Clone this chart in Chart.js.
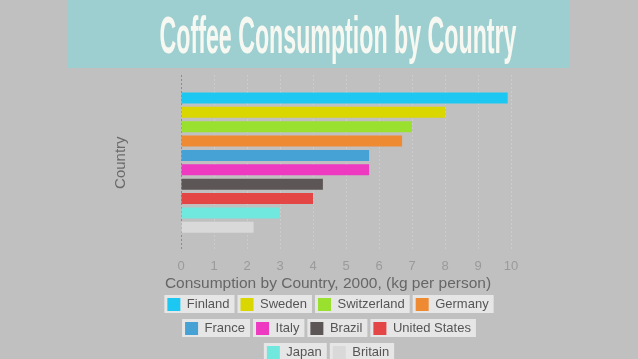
<!DOCTYPE html>
<html><head><meta charset="utf-8">
<script src="https://cdn.jsdelivr.net/npm/chart.js@4.4.0/dist/chart.umd.min.js"></script>
<style>html,body{margin:0;padding:0;background:#c0c0c0;overflow:hidden}#wrap{width:638px;height:359px}</style>
</head><body><div id="wrap"><canvas id="c" width="638" height="359"></canvas></div>
<script>
const TITLE = 'Coffee Consumption by Country';
const X_TITLE = 'Consumption by Country, 2000, (kg per person)';
const Y_TITLE = 'Country';
const countries = ['Finland','Sweden','Switzerland','Germany','France','Italy','Brazil','United States','Japan','Britain'];
const consumption = [9.9, 8.0, 7.0, 6.7, 5.7, 5.7, 4.3, 4.0, 3.0, 2.2];
const colors = ['#1cc8f2','#d9d600','#9ae02e','#ee8a32','#46a2d5','#ee3ac0','#5d5656','#e44646','#70e8dd','#d9d9d9'];
const xTickValues = [0,1,2,3,4,5,6,7,8,9,10];

const FONT = '"Liberation Sans", Arial, sans-serif';
const LEGEND_WRAP = 354;

const decor = {
  id: 'decor',
  beforeUpdate(chart) {
    const lg = chart.legend;
    if (lg && !lg._patched) {
      const origFit = lg.fit;
      lg.fit = function () {
        const m = this.maxWidth;
        this.maxWidth = Math.min(m, LEGEND_WRAP);
        origFit.call(this);
        this.maxWidth = m;
        this.width = m;
      };
      lg.draw = function () {
        if (!this.options.display) return;
        const l = this.left, r = this.right, c = (l + r) / 2;
        const pad = this.options.labels.padding;
        const half = (Math.max.apply(null, this.lineWidths) + pad + 10) / 2;
        this.left = c - half; this.right = c + half;
        this._draw();
        this.left = l; this.right = r;
      };
      lg._patched = true;
    }
  },
  beforeDraw(chart) {
    const ctx = chart.ctx;
    ctx.save();
    ctx.fillStyle = '#c0c0c0';
    ctx.fillRect(0, 0, chart.width, chart.height);
    ctx.fillStyle = '#9dcfd1';
    ctx.fillRect(68, 0, 502, 68);
    ctx.font = 'bold 52px "Liberation Sans Narrow", "Liberation Sans", sans-serif';
    const w = ctx.measureText(TITLE).width;
    ctx.translate(338, 53);
    ctx.scale(357 / w, 1);
    ctx.textAlign = 'center';
    ctx.textBaseline = 'alphabetic';
    ctx.fillStyle = '#f6f8f1';
    ctx.fillText(TITLE, 0, 0);
    ctx.restore();
    const lg = chart.legend;
    if (lg && lg.legendHitBoxes) {
      ctx.save();
      ctx.fillStyle = '#e6e6e6';
      lg.legendHitBoxes.forEach(h => {
        ctx.fillRect(h.left - 3, h.top - 3, h.width + 8, h.height + 5);
      });
      ctx.restore();
    }
  }
};

const datasets = countries.map((c, i) => ({
  label: c,
  data: [consumption[i]],
  backgroundColor: colors[i],
  borderWidth: 0,
  barPercentage: 0.77,
  categoryPercentage: 0.82
}));

new Chart(document.getElementById('c'), {
  type: 'bar',
  data: { labels: [''], datasets },
  plugins: [decor],
  options: {
    indexAxis: 'y',
    responsive: false,
    animation: false,
    devicePixelRatio: 1,
    layout: { padding: { top: 75, left: 18, right: 0, bottom: -10 } },
    scales: {
      x: {
        type: 'linear', min: 0, max: 10,
        afterBuildTicks(s) { s.ticks = xTickValues.map(v => ({ value: v })); },
        ticks: { color: '#9a9a9a', font: { family: FONT, size: 13 }, padding: 8 },
        grid: { color: ctx => ctx.tick && ctx.tick.value === 0 ? '#8c8c8c' : '#cccccc', drawTicks: false, lineWidth: 1 },
        border: { display: false, dash: [2, 2] }
      },
      y: {
        type: 'category',
        ticks: { display: false },
        grid: { display: false },
        border: { display: false },
        title: { display: true, text: Y_TITLE, color: '#6a6a6a', font: { family: FONT, size: 15 }, padding: { top: 94, bottom: 0 } },
        afterFit(s) { s.width = 163; }
      },
      r: {
        type: 'linear', position: 'right', display: true,
        ticks: { display: false }, grid: { display: false }, border: { display: false },
        afterFit(s) { s.width = 127; }
      }
    },
    plugins: {
      tooltip: { enabled: false },
      title: { display: false },
      legend: {
        position: 'bottom',
        title: { display: true, text: X_TITLE, color: '#666666', font: { family: FONT, size: 15.5 }, padding: { top: -5.5, bottom: -8 } },
        labels: {
          boxWidth: 13, boxHeight: 13, padding: 11, color: '#555555',
          font: { family: FONT, size: 13 },
          generateLabels(chart) {
            return Chart.defaults.plugins.legend.labels.generateLabels(chart).map(l => { l.lineWidth = 0; return l; });
          }
        }
      }
    }
  }
});
</script>
</body></html>
